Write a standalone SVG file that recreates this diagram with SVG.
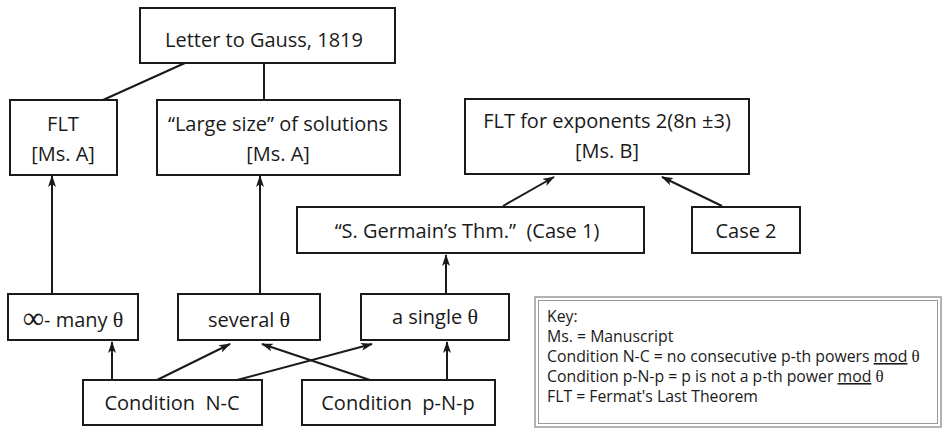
<svg xmlns="http://www.w3.org/2000/svg" width="945" height="433" viewBox="0 0 945 433">
<style>
.box{fill:#fff;stroke:#1a1a1a;stroke-width:2}
.t{font-family:"Open Sans","Liberation Sans",sans-serif;font-size:20px;fill:#1a1a1a;text-anchor:middle;white-space:pre}
.k{font-family:"Open Sans","Liberation Sans",sans-serif;font-size:15.8px;fill:#1a1a1a}
.g{font-family:"Liberation Serif",serif}
.ln{stroke:#1a1a1a;stroke-width:2;fill:none}
.ar{stroke:#1a1a1a;stroke-width:2;fill:none;marker-end:url(#ah)}
</style>
<defs>
<marker id="ah" viewBox="0 0 12 8" refX="11" refY="4" markerWidth="12" markerHeight="8" markerUnits="userSpaceOnUse" orient="auto">
<path d="M0,0 L12,4 L0,8 L3,4 Z" fill="#1a1a1a"/>
</marker>
</defs>
<rect width="945" height="433" fill="#fff"/>
<g id="connectors">
<line class="ln" x1="185" y1="63" x2="103" y2="100"/>
<line class="ln" x1="264" y1="63" x2="264" y2="100"/>
<line class="ar" x1="52" y1="294" x2="52" y2="176"/>
<line class="ar" x1="260" y1="294" x2="260" y2="176"/>
<line class="ar" x1="446" y1="294" x2="446" y2="255"/>
<line class="ar" x1="503" y1="206" x2="554" y2="177"/>
<line class="ar" x1="722" y1="206" x2="662" y2="177"/>
<line class="ar" x1="112" y1="380" x2="112" y2="342"/>
<line class="ar" x1="157" y1="380" x2="230" y2="344"/>
<line class="ar" x1="237" y1="380" x2="372" y2="344"/>
<line class="ar" x1="370" y1="380" x2="262" y2="344"/>
<line class="ar" x1="447" y1="380" x2="447" y2="342"/>
</g>
<g id="letter"><rect class="box" x="140" y="8" width="255" height="55"/><text class="t" x="264" y="47">Letter to Gauss, 1819</text></g>
<g id="flt"><rect class="box" x="10" y="100" width="107" height="75"/><text class="t" x="63" y="131">FLT</text><text class="t" x="63" y="161">[Ms. A]</text></g>
<g id="large"><rect class="box" x="157" y="100" width="243" height="75"/><text class="t" x="278" y="131">“Large size” of solutions</text><text class="t" x="278" y="161">[Ms. A]</text></g>
<g id="fltexp"><rect class="box" x="465" y="99" width="284" height="75"/><text class="t" x="607" y="128">FLT for exponents 2(8n ±3)</text><text class="t" x="607" y="158">[Ms. B]</text></g>
<g id="germain"><rect class="box" x="297" y="207" width="347" height="46"/><text class="t" x="467" y="238">“S. Germain’s Thm.”  (Case 1)</text></g>
<g id="case2"><rect class="box" x="692" y="207" width="108" height="46"/><text class="t" x="746" y="238">Case 2</text></g>
<g id="many"><rect class="box" x="8" y="294" width="130" height="46"/><text class="t" x="73" y="327"><tspan font-family="DejaVu Sans" font-weight="200" font-size="30" dy="1">∞</tspan><tspan dy="-1">- many </tspan><tspan class="g" font-size="22">θ</tspan></text></g>
<g id="several"><rect class="box" x="178" y="294" width="142" height="46"/><text class="t" x="249" y="327">several <tspan class="g" font-size="22">θ</tspan></text></g>
<g id="single"><rect class="box" x="361" y="294" width="148" height="46"/><text class="t" x="435" y="324">a single <tspan class="g" font-size="22">θ</tspan></text></g>
<g id="nc"><rect class="box" x="83" y="380" width="179" height="45"/><text class="t" x="172" y="410">Condition  N-C</text></g>
<g id="pnp"><rect class="box" x="302" y="380" width="193" height="45"/><text class="t" x="398" y="410">Condition  p-N-p</text></g>
<g id="key">
<rect x="535" y="297" width="406" height="130" fill="#fff" stroke="#999" stroke-width="1.5"/>
<rect x="538.5" y="300.5" width="399" height="123" fill="none" stroke="#999" stroke-width="1"/>
<text class="k" x="547" y="322">Key:</text>
<text class="k" x="547" y="342">Ms. = Manuscript</text>
<text class="k" x="547" y="362">Condition N-C = no consecutive p-th powers <tspan text-decoration="underline">mod</tspan> <tspan class="g" font-size="17">θ</tspan></text>
<text class="k" x="547" y="382">Condition p-N-p = p is not a p-th power <tspan text-decoration="underline">mod</tspan> <tspan class="g" font-size="17">θ</tspan></text>
<text class="k" x="547" y="402">FLT = Fermat's Last Theorem</text>
</g>
</svg>
